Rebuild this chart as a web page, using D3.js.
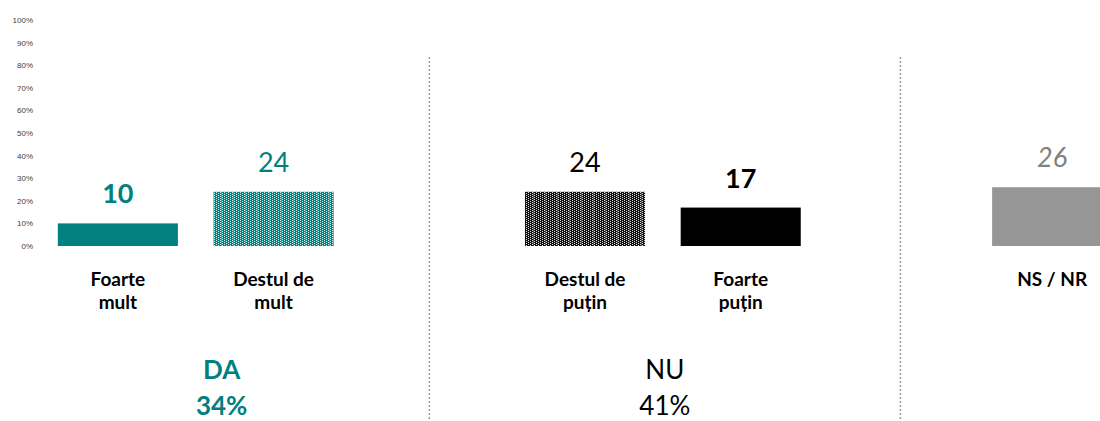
<!DOCTYPE html>
<html>
<head>
<meta charset="utf-8">
<script src="https://cdn.jsdelivr.net/npm/d3@7"></script>
<style>
  body { margin: 0; background: #fff; }
  svg { display: block; }
</style>
</head>
<body>
<div class="graph"></div>
<script>
const width = 1100;
const height = 421;

// data
const categories = ['Foarte mult', 'Destul de mult', 'gap1', 'Destul de puțin', 'Foarte puțin', 'gap2', 'NS / NR'];
const barCats = ['Foarte mult', 'Destul de mult', 'Destul de puțin', 'Foarte puțin', 'NS / NR'];
const values = [10, 24, 24, 17, 26];
const labelLines = [['Foarte', 'mult'], ['Destul de', 'mult'], ['Destul de', 'puțin'], ['Foarte', 'puțin'], ['NS / NR']];
const groups = ['DA', 'NU'];
const groupTotals = ['34%', '41%'];
const yTicks = [0, 10, 20, 30, 40, 50, 60, 70, 80, 90, 100];

// styles
const teal = '#00807f';
const barFills = ['solid-teal', 'pat-teal', 'pat-black', 'solid-black', 'solid-gray'];
const valStyle = [
  {fill: teal, weight: 'bold', style: 'normal'},
  {fill: teal, weight: 'normal', style: 'normal'},
  {fill: '#000', weight: 'normal', style: 'normal'},
  {fill: '#000', weight: 'bold', style: 'normal'},
  {fill: '#808080', weight: 'normal', style: 'italic'}
];
const groupStyle = [
  {fill: teal, weight: 'bold'},
  {fill: '#000', weight: 'normal'}
];

const svg = d3.select('.graph').append('svg')
  .attr('width', width)
  .attr('height', height);

const defs = svg.append('defs');
const makePattern = (id, base) => {
  const p = defs.append('pattern')
    .attr('id', id)
    .attr('patternUnits', 'userSpaceOnUse')
    .attr('width', 12).attr('height', 2);
  p.append('rect').attr('width', 12).attr('height', 2).attr('fill', base);
  [0, 4, 8].forEach(x => p.append('rect').attr('x', x).attr('y', 0).attr('width', 1).attr('height', 1).attr('fill', '#fff').attr('opacity', 0.85));
  [2, 6, 10].forEach(x => p.append('rect').attr('x', x).attr('y', 1).attr('width', 1).attr('height', 1).attr('fill', '#fff').attr('opacity', 0.85));
  p.append('rect').attr('x', 5).attr('y', 0).attr('width', 1).attr('height', 2).attr('fill', '#fff').attr('opacity', 0.25);
};
makePattern('pat-teal', teal);
makePattern('pat-black', '#111');

const fillFor = f => ({
  'solid-teal': teal,
  'solid-black': '#000',
  'solid-gray': '#969696',
  'pat-teal': 'url(#pat-teal)',
  'pat-black': 'url(#pat-black)'
})[f];

const xScale = d3.scaleBand()
  .domain(categories)
  .range([40, 1130])
  .paddingInner(0.229)
  .paddingOuter(0.1145);

const yScale = d3.scaleLinear()
  .domain([0, 100])
  .range([246, 20]);

// y axis labels only
const yAxis = d3.axisLeft(yScale)
  .tickValues(yTicks)
  .tickFormat(d => d + '%')
  .tickSize(0)
  .tickPadding(0);

const yg = svg.append('g')
  .attr('transform', 'translate(33, 0)')
  .call(yAxis);
yg.select('.domain').remove();
yg.selectAll('text')
  .attr('fill', '#404040')
  .style('font-family', '"Liberation Sans", Arial, sans-serif')
  .style('font-size', '8px');

// separators, a little right of the spacer centres
const seps = ['gap1', 'gap2'].map(g => xScale(g) + xScale.bandwidth() / 2);
seps[1] += 4;
svg.selectAll('.sep')
  .data(seps)
  .join('line')
  .attr('class', 'sep')
  .attr('x1', d => d).attr('x2', d => d)
  .attr('y1', 57).attr('y2', height)
  .attr('stroke', '#9a9a9a')
  .attr('stroke-width', 1.5)
  .attr('stroke-dasharray', '2,2');

// bars
svg.selectAll('.bar')
  .data(barCats)
  .join('rect')
  .attr('class', 'bar')
  .attr('x', d => xScale(d))
  .attr('y', (d, i) => yScale(values[i]))
  .attr('width', xScale.bandwidth())
  .attr('height', (d, i) => yScale(0) - yScale(values[i]))
  .attr('fill', (d, i) => fillFor(barFills[i]));

// value labels
svg.selectAll('.val')
  .data(barCats)
  .join('text')
  .attr('class', 'val')
  .attr('x', d => xScale(d) + xScale.bandwidth() / 2)
  .attr('y', (d, i) => yScale(values[i]) - 20)
  .attr('text-anchor', 'middle')
  .style('font-family', 'Lato, sans-serif')
  .style('font-size', '27px')
  .style('font-weight', (d, i) => valStyle[i].weight)
  .style('font-style', (d, i) => valStyle[i].style)
  .attr('fill', (d, i) => valStyle[i].fill)
  .text((d, i) => values[i]);

// category labels
const cl = svg.selectAll('.cat')
  .data(barCats)
  .join('text')
  .attr('class', 'cat')
  .attr('text-anchor', 'middle')
  .style('font-family', 'Lato, sans-serif')
  .style('font-size', '19px')
  .style('font-weight', 'bold')
  .attr('fill', '#000');
cl.each(function(d, i) {
  const cx = xScale(d) + xScale.bandwidth() / 2;
  d3.select(this).selectAll('tspan')
    .data(labelLines[i])
    .join('tspan')
    .attr('x', cx)
    .attr('y', (t, j) => 286 + j * 23)
    .text(t => t);
});

// group labels, centred between the separators
const groupBounds = [[14, seps[0]], [seps[0], seps[1]]];
groups.forEach((g, i) => {
  const cx = (groupBounds[i][0] + groupBounds[i][1]) / 2;
  const t = svg.append('text')
    .attr('text-anchor', 'middle')
    .style('font-family', 'Lato, sans-serif')
    .style('font-size', '26px')
    .style('font-weight', groupStyle[i].weight)
    .attr('fill', groupStyle[i].fill);
  t.append('tspan').attr('x', cx).attr('y', 379).text(g);
  t.append('tspan').attr('x', cx).attr('y', 415).text(groupTotals[i]);
});
</script>
</body>
</html>
